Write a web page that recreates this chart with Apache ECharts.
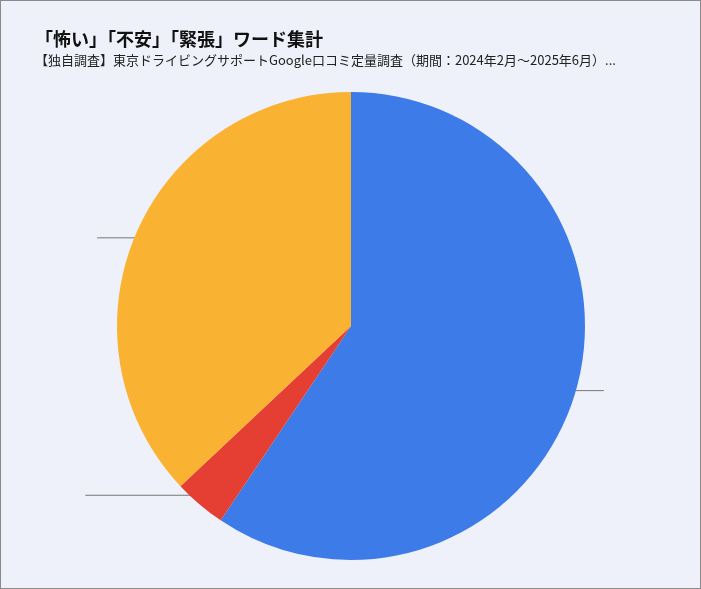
<!DOCTYPE html>
<html>
<head>
<meta charset="utf-8">
<script src="https://cdn.jsdelivr.net/npm/echarts@6/dist/echarts.min.js"></script>
<style>
  html, body { margin: 0; padding: 0; background: #eef1f9; }
  #chart { width: 701px; height: 589px; box-sizing: border-box; border: 1px solid #8a8a8a; }
</style>
</head>
<body>
<div id="chart"></div>
<script>
// data
var names = ['不安', '怖い', '緊張'];
var values = [59.4, 3.6, 37.0];
var colors = ['#3d7ce8', '#e53e32', '#f9b232'];

var chart = echarts.init(document.getElementById('chart'));
var font = '"Noto Sans CJK JP", "Noto Sans", sans-serif';

function pieData(big) {
  return names.map(function (n, i) {
    var d = { name: n, value: values[i], itemStyle: { color: colors[i] } };
    if (big && values[i] < 5) {
      d.label = { fontSize: 13 };
    }
    return d;
  });
}

var option = {
  backgroundColor: '#eef1f9',
  title: {
    text: '「怖い」「不安」「緊張」ワード集計',
    subtext: '【独自調査】東京ドライビングサポートGoogle口コミ定量調査（期間：2024年2月〜2025年6月）...',
    left: 29,
    top: 24,
    itemGap: 6,
    textStyle: { fontFamily: font, fontSize: 18, fontWeight: 'bold', color: '#111' },
    subtextStyle: { fontFamily: font, fontSize: 13, color: '#222' }
  },
  series: [
    {
      type: 'pie',
      center: [350, 325],
      radius: [0, 234],
      startAngle: 90,
      silent: true,
      data: pieData(false),
      label: { show: false },
      labelLine: { show: false }
    },
    {
      // inner percent labels
      type: 'pie',
      center: [350, 325],
      radius: [0, 318],
      startAngle: 90,
      silent: true,
      data: pieData(true),
      itemStyle: { opacity: 0 },
      label: {
        show: true,
        position: 'inside',
        formatter: function (p) { return p.value.toFixed(1) + '%'; },
        fontFamily: font,
        fontSize: 24,
        fontWeight: 'bold',
        color: '#000'
      },
      labelLine: { show: false }
    },
    {
      // outer name labels
      type: 'pie',
      center: [350, 325],
      radius: [0, 222],
      startAngle: 90,
      silent: true,
      data: pieData(false),
      itemStyle: { opacity: 0 },
      label: {
        show: true,
        position: 'outside',
        alignTo: 'edge',
        edgeDistance: 30,
        formatter: function (p) { return '{n|' + p.name + '}\n{p|' + p.value.toFixed(1) + '%}'; },
        rich: {
          n: { fontFamily: font, fontSize: 20, fontWeight: 'bold', color: '#222', lineHeight: 28 },
          p: { fontFamily: font, fontSize: 20, fontWeight: 'bold', color: '#8a8a8a', lineHeight: 28 }
        }
      },
      labelLine: {
        show: true,
        length: 0,
        length2: 10,
        lineStyle: { color: '#777', width: 1, opacity: 1 }
      }
    }
  ]
};
chart.setOption(option);
</script>
</body>
</html>
